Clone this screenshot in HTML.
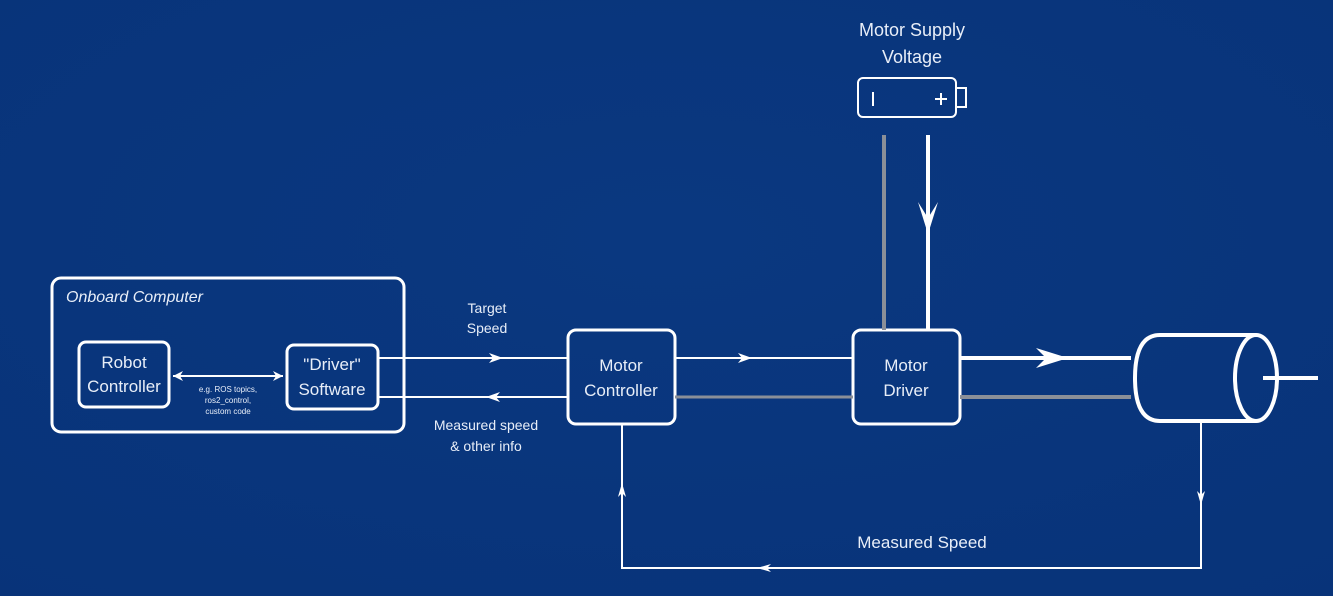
<!DOCTYPE html>
<html><head><meta charset="utf-8"><style>
html,body{margin:0;padding:0;background:#09357d;}
svg{display:block}
text{font-family:"Liberation Sans",sans-serif;fill:#e8eef8;}
</style></head><body>
<svg width="1333" height="596" viewBox="0 0 1333 596">
<defs>
<radialGradient id="bg" cx="0.5" cy="0.4" r="0.8"><stop offset="0" stop-color="#0a3880"/><stop offset="1" stop-color="#083379"/></radialGradient>
</defs>
<rect width="1333" height="596" fill="url(#bg)"/>
<g fill="none" stroke="#fff" stroke-width="3">
<rect x="52" y="278" width="352" height="154" rx="9"/>
<rect x="79" y="342" width="90" height="65" rx="7"/>
<rect x="287" y="345" width="91" height="64" rx="7"/>
<rect x="568" y="330" width="107" height="94" rx="8"/>
<rect x="853" y="330" width="107" height="94" rx="8"/>
<rect x="858" y="78" width="98" height="39" rx="5" stroke-width="2"/>
<rect x="956" y="88" width="10" height="19" stroke-width="2"/>
</g>
<g stroke="#fff" stroke-width="2" fill="none">
<line x1="173" y1="376" x2="283" y2="376"/>
<line x1="378" y1="358" x2="568" y2="358"/>
<line x1="378" y1="397" x2="568" y2="397"/>
<line x1="675" y1="358" x2="853" y2="358"/>
<polyline points="1201,421 1201,568 622,568 622,424"/>
<line x1="873" y1="92" x2="873" y2="106"/>
<line x1="935" y1="99" x2="947" y2="99"/><line x1="941" y1="93" x2="941" y2="105"/>
</g>
<line x1="675" y1="397" x2="853" y2="397" stroke="#8a8f98" stroke-width="3"/>
<line x1="960" y1="397" x2="1131" y2="397" stroke="#8a8f98" stroke-width="4"/>
<line x1="884" y1="135" x2="884" y2="330" stroke="#8a8f98" stroke-width="4"/>
<line x1="928" y1="135" x2="928" y2="330" stroke="#fff" stroke-width="4"/>
<line x1="960" y1="358" x2="1131" y2="358" stroke="#fff" stroke-width="4"/>
<g fill="#fff">
<path d="M173,376 l10,-5 l-3,5 l3,5z"/>
<path d="M283,376 l-10,-5 l3,5 l-3,5z"/>
<path d="M503,358 l-14,-5 l4,5 l-4,5z"/>
<path d="M486,397 l14,-5 l-4,5 l4,5z"/>
<path d="M752,358 l-14,-5 l4,5 l-4,5z"/>
<path d="M1068,358 l-32,-10 l10,10 l-10,10z"/>
<path d="M928,234 l-10,-32 l10,16 l10,-16z"/>
<path d="M1201,505 l-4,-14 l4,4 l4,-4z"/>
<path d="M757,568 l14,-4 l-4,4 l4,4z"/>
<path d="M622,483 l-4,14 l4,-4 l4,4z"/>
</g>
<g fill="none" stroke="#fff" stroke-width="4">
<path d="M1256,335 L1160,335 Q1135,335 1135,378 Q1135,421 1160,421 L1256,421"/>
<ellipse cx="1256" cy="378" rx="21" ry="43"/>
<line x1="1263" y1="378" x2="1318" y2="378"/>
</g>
<text x="66" y="302" font-size="16" font-style="italic">Onboard Computer</text>
<text x="124" y="368" font-size="17" text-anchor="middle">Robot</text>
<text x="124" y="392" font-size="17" text-anchor="middle">Controller</text>
<text x="332" y="370" font-size="17" text-anchor="middle">"Driver"</text>
<text x="332" y="395" font-size="17" text-anchor="middle">Software</text>
<text x="228" y="392" font-size="8" text-anchor="middle">e.g. ROS topics,</text>
<text x="228" y="403" font-size="8" text-anchor="middle">ros2_control,</text>
<text x="228" y="414" font-size="8" text-anchor="middle">custom code</text>
<text x="487" y="313" font-size="14" text-anchor="middle">Target</text>
<text x="487" y="333" font-size="14" text-anchor="middle">Speed</text>
<text x="486" y="430" font-size="14" text-anchor="middle">Measured speed</text>
<text x="486" y="451" font-size="14" text-anchor="middle">&amp; other info</text>
<text x="621" y="371" font-size="17" text-anchor="middle">Motor</text>
<text x="621" y="396" font-size="17" text-anchor="middle">Controller</text>
<text x="906" y="371" font-size="17" text-anchor="middle">Motor</text>
<text x="906" y="396" font-size="17" text-anchor="middle">Driver</text>
<text x="912" y="36" font-size="18" text-anchor="middle">Motor Supply</text>
<text x="912" y="63" font-size="18" text-anchor="middle">Voltage</text>
<text x="922" y="548" font-size="17" text-anchor="middle">Measured Speed</text>
</svg>
</body></html>
